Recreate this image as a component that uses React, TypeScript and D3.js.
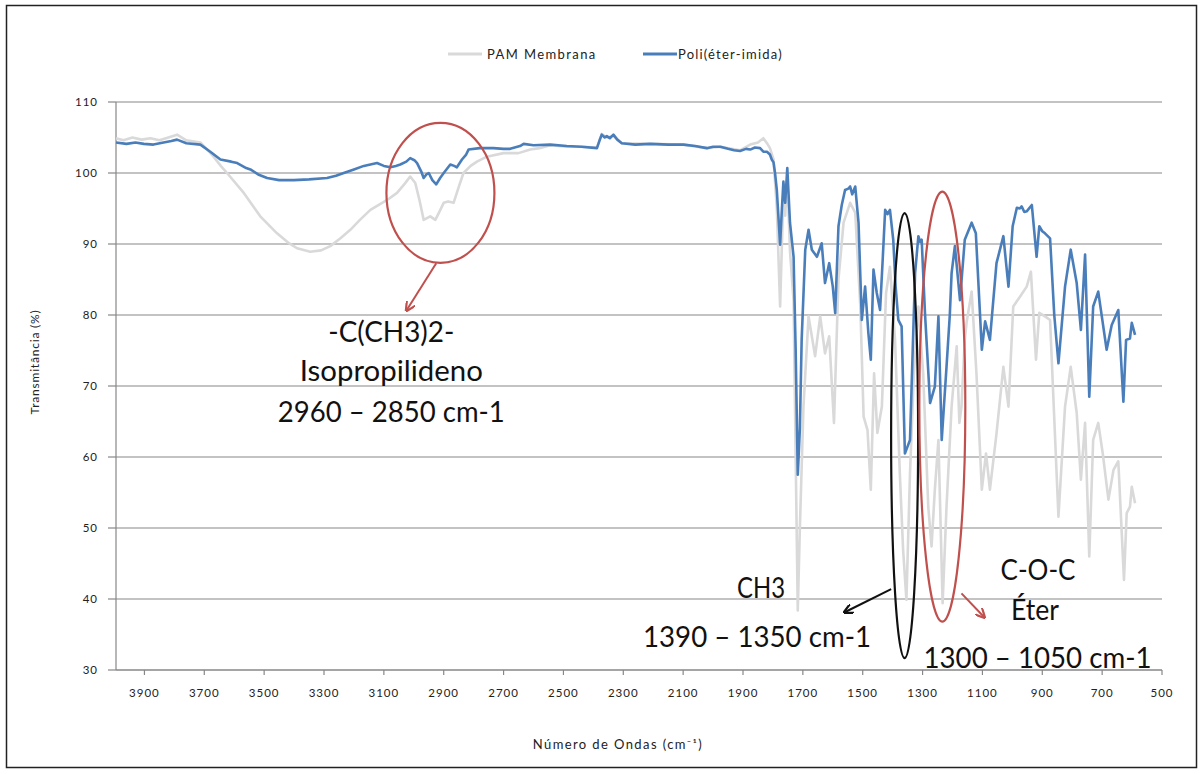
import React from "react";
import * as d3 from "d3";

// ---- Data ----
const pamWavenumbers = [
  3995, 3970, 3940, 3910, 3880, 3850, 3820, 3791, 3760, 3713, 3690, 3669, 3645, 3624, 3568, 3513, 3457, 3420, 3390, 3346,
  3310, 3279, 3245, 3212, 3180, 3145, 3110, 3089, 3056, 3030, 3012, 2995, 2980, 2967, 2945, 2928, 2915, 2900, 2885, 2867,
  2850, 2834, 2810, 2789, 2756, 2700, 2650, 2611, 2580, 2544, 2489, 2440, 2388, 2372, 2355, 2333, 2305, 2210, 2099, 2021,
  1976, 1910, 1876, 1850, 1832, 1820, 1810, 1798, 1787, 1776, 1770, 1765, 1759, 1752, 1743, 1731, 1724, 1717, 1710, 1698,
  1681, 1659, 1642, 1626, 1612, 1596, 1581, 1564, 1542, 1525, 1508, 1497, 1484, 1473, 1462, 1451, 1436, 1422, 1409, 1392,
  1376, 1365, 1354, 1342, 1329, 1314, 1298, 1281, 1270, 1259, 1247, 1233, 1220, 1203, 1186, 1177, 1170, 1159, 1153, 1136,
  1120, 1102, 1088, 1075, 1053, 1030, 1013, 997, 974, 952, 938, 921, 910, 891, 874, 846, 824, 805, 785, 771,
  757, 743, 730, 713, 698, 679, 662, 646, 627, 618, 607, 601, 590,
];
const pamValues = [
  104.9, 104.6, 105.0, 104.7, 104.9, 104.6, 105.0, 105.4, 104.6, 104.3, 103.3, 102.3, 101.0, 100.0, 97.2, 93.9, 91.5, 90.2, 89.4, 88.9,
  89.1, 89.7, 90.8, 92.0, 93.4, 94.8, 95.7, 96.2, 97.2, 98.5, 99.5, 98.6, 96.0, 93.4, 93.9, 93.4, 94.5, 95.8, 96.0, 95.8,
  98.0, 100.0, 101.0, 101.6, 102.3, 102.8, 102.8, 103.3, 103.5, 103.9, 103.7, 103.7, 103.6, 105.5, 105.0, 105.2, 104.2, 104.1, 104.0, 103.5,
  103.7, 103.2, 104.0, 104.3, 104.9, 104.2, 103.5, 101.9, 95.0, 81.2, 90.0, 97.0, 94.0, 99.5, 89.0, 82.0, 60.0, 38.4, 50.0, 67.1,
  79.8, 74.2, 79.8, 74.6, 77.0, 64.8, 85.0, 93.0, 95.8, 94.4, 81.2, 65.7, 63.8, 55.4, 71.8, 63.4, 67.1, 83.1, 86.8, 76.5,
  57.7, 46.9, 39.9, 57.7, 71.8, 81.2, 71.8, 53.0, 47.4, 55.4, 62.4, 39.4, 53.0, 67.1, 75.6, 64.8, 67.1, 76.5, 78.9, 83.3,
  71.8, 55.4, 60.5, 55.4, 63.3, 72.7, 67.1, 81.2, 82.6, 84.0, 86.1, 73.7, 80.3, 79.8, 79.3, 51.6, 67.1, 72.7, 66.2, 56.8,
  64.8, 46.0, 62.4, 64.8, 60.5, 54.0, 58.2, 59.4, 42.7, 52.1, 53.0, 55.8, 53.5,
];

const peiWavenumbers = [
  3995, 3960, 3930, 3902, 3870, 3836, 3810, 3791, 3760, 3713, 3680, 3646, 3610, 3590, 3560, 3546, 3520, 3490, 3450, 3401,
  3350, 3290, 3260, 3234, 3200, 3167, 3123, 3100, 3078, 3060, 3045, 3025, 3012, 2998, 2989, 2975, 2967, 2958, 2950, 2938,
  2925, 2912, 2900, 2878, 2865, 2856, 2839, 2825, 2817, 2780, 2734, 2700, 2678, 2645, 2633, 2600, 2544, 2489, 2440, 2388,
  2380, 2372, 2362, 2355, 2345, 2333, 2320, 2305, 2260, 2210, 2150, 2099, 2060, 2021, 2000, 1976, 1950, 1930, 1910, 1890,
  1876, 1860, 1843, 1832, 1820, 1810, 1804, 1798, 1793, 1787, 1776, 1770, 1765, 1759, 1752, 1743, 1731, 1724, 1717, 1710,
  1704, 1692, 1681, 1670, 1653, 1637, 1626, 1612, 1600, 1592, 1581, 1570, 1559, 1548, 1542, 1535, 1525, 1514, 1503, 1492,
  1481, 1473, 1464, 1453, 1442, 1433, 1425, 1417, 1409, 1398, 1390, 1381, 1370, 1359, 1350, 1342, 1333, 1325, 1314, 1308,
  1303, 1292, 1275, 1259, 1247, 1236, 1220, 1209, 1203, 1192, 1175, 1159, 1136, 1122, 1102, 1091, 1075, 1053, 1030, 1013,
  999, 985, 975, 969, 960, 952, 935, 919, 910, 900, 891, 874, 860, 846, 824, 805, 785, 771, 757, 743,
  730, 713, 685, 668, 646, 629, 620, 607, 601, 590,
];
const peiValues = [
  104.3, 104.1, 104.3, 104.1, 104.0, 104.3, 104.5, 104.7, 104.2, 104.0, 103.0, 101.9, 101.6, 101.4, 100.7, 100.5, 99.8, 99.3, 99.0, 99.0,
  99.1, 99.3, 99.6, 100.0, 100.5, 101.0, 101.4, 101.0, 100.8, 101.0, 101.2, 101.6, 102.1, 101.8, 101.4, 100.2, 99.3, 99.8, 100.0, 99.0,
  98.4, 99.3, 100.0, 101.2, 101.0, 100.8, 101.9, 102.6, 103.3, 103.5, 103.5, 103.4, 103.4, 103.8, 104.1, 103.9, 104.0, 103.8, 103.7, 103.5,
  104.5, 105.4, 105.0, 105.2, 104.9, 105.4, 104.7, 104.2, 104.0, 104.1, 104.0, 104.0, 103.8, 103.5, 103.7, 103.7, 103.4, 103.2, 103.1, 103.4,
  103.3, 103.6, 103.5, 103.0, 103.0, 102.6, 101.9, 101.5, 100.0, 97.6, 89.9, 95.0, 98.8, 95.8, 100.7, 93.0, 88.2, 75.0, 57.5, 64.0,
  76.5, 89.2, 92.0, 89.2, 88.2, 90.1, 84.5, 87.3, 84.0, 80.3, 92.5, 95.5, 97.6, 97.8, 98.1, 97.0, 98.1, 93.0, 79.3, 84.0,
  77.4, 73.7, 86.4, 83.1, 80.7, 88.0, 94.8, 94.2, 94.8, 90.6, 84.0, 79.3, 78.4, 60.5, 61.5, 62.4, 75.0, 85.9, 91.1, 90.3,
  90.6, 80.3, 67.6, 69.9, 79.8, 62.4, 72.7, 80.0, 85.9, 89.7, 82.1, 90.6, 93.0, 91.5, 75.1, 79.1, 76.5, 87.3, 91.1, 84.0,
  92.5, 95.1, 95.0, 95.3, 94.5, 94.6, 95.5, 88.2, 92.5, 91.8, 91.5, 90.8, 80.0, 73.2, 84.0, 89.2, 84.5, 77.9, 88.5, 68.5,
  81.2, 83.3, 75.1, 78.6, 80.7, 67.8, 76.5, 76.7, 78.9, 77.2,
];

const xTickValues = [3900, 3700, 3500, 3300, 3100, 2900, 2700, 2500, 2300, 2100, 1900, 1700, 1500, 1300, 1100, 900, 700, 500];
const yTickValues = [30, 40, 50, 60, 70, 80, 90, 100, 110];

const seriesNames = ["PAM Membrana", "Poli(éter-imida)"];
const seriesColors = ["#d9d9d9", "#4a7ebb"];

const W = 1204;
const H = 774;

const FONT = "Lato, 'Open Sans', 'DejaVu Sans', sans-serif";

export default function App() {
  const x = d3.scaleLinear().domain([3995, 500]).range([116, 1162]);
  const y = d3.scaleLinear().domain([30, 110]).range([670, 102]);

  const line = d3
    .line<[number, number]>()
    .x((d) => x(d[0]))
    .y((d) => y(d[1]));

  const pamPts: [number, number][] = pamWavenumbers.map((w, i) => [w, pamValues[i]]);
  const peiPts: [number, number][] = peiWavenumbers.map((w, i) => [w, peiValues[i]]);

  const red = "#c0504d";
  const annFont = 28;

  return (
    <svg
      width={W}
      height={H}
      style={{ position: "absolute", left: 0, top: 0, background: "#fff" }}
      fontFamily={FONT}
    >
      <defs>
        <marker id="arrBlack" viewBox="0 0 10 10" refX="9" refY="5" markerWidth="5" markerHeight="5" orient="auto">
          <path d="M0,0 L10,5 L0,10" fill="none" stroke="#111" strokeWidth="2.2" />
        </marker>
        <marker id="arrRed" viewBox="0 0 10 10" refX="9" refY="5" markerWidth="5" markerHeight="5" orient="auto">
          <path d="M0,0 L10,5 L0,10" fill="none" stroke={red} strokeWidth="2.2" />
        </marker>
      </defs>
      <rect x={0} y={0} width={W} height={H} fill="#fff" />
      <rect x={6.5} y={5.5} width={1190} height={762} fill="none" stroke="#222" strokeWidth={1.5} />

      {/* gridlines */}
      {yTickValues.map((v) => (
        <line key={"g" + v} x1={116} x2={1162} y1={y(v)} y2={y(v)} stroke="#878787" strokeWidth={1.2} />
      ))}
      {/* y axis */}
      <line x1={116} x2={116} y1={y(110)} y2={y(30)} stroke="#878787" strokeWidth={1.2} />
      {yTickValues.map((v) => (
        <g key={"yt" + v}>
          <line x1={108} x2={116} y1={y(v)} y2={y(v)} stroke="#878787" strokeWidth={1.2} />
          <text x={98} y={y(v) + 4} textAnchor="end" fontSize={11.5} letterSpacing={1} fill="#222">
            {v}
          </text>
        </g>
      ))}
      {/* x axis */}
      <line x1={116} x2={1162} y1={y(30)} y2={y(30)} stroke="#878787" strokeWidth={1.2} />
      {xTickValues.map((v) => (
        <g key={"xt" + v}>
          <line x1={x(v)} x2={x(v)} y1={y(30)} y2={y(30) + 5} stroke="#878787" strokeWidth={1.2} />
          <text x={x(v)} y={697} textAnchor="middle" fontSize={11.5} letterSpacing={1} fill="#222">
            {v}
          </text>
        </g>
      ))}

      {/* series */}
      <path d={line(pamPts) || ""} fill="none" stroke={seriesColors[0]} strokeWidth={2.6} strokeLinejoin="round" />
      <path d={line(peiPts) || ""} fill="none" stroke={seriesColors[1]} strokeWidth={2.6} strokeLinejoin="round" />

      {/* axis titles */}
      <text x={618} y={749} textAnchor="middle" fontSize={13} letterSpacing={1.4} fill="#222">
        Número de Ondas  (cm⁻¹)
      </text>
      <text
        transform={`translate(39, 362) rotate(-90)`}
        textAnchor="middle"
        fontSize={12}
        letterSpacing={0.8}
        fill="#222"
      >
        Transmitância  (%)
      </text>

      {/* legend */}
      <line x1={448} x2={482} y1={54} y2={54} stroke={seriesColors[0]} strokeWidth={3} />
      <text x={487} y={58.5} fontSize={13} letterSpacing={1.4} fill="#222">
        {seriesNames[0]}
      </text>
      <line x1={643} x2={677} y1={54} y2={54} stroke={seriesColors[1]} strokeWidth={3} />
      <text x={678} y={58.5} fontSize={13} letterSpacing={1.2} fill="#222">
        {seriesNames[1]}
      </text>

      {/* annotation 1: isopropilideno */}
      <ellipse cx={x(2911)} cy={y(97.2)} rx={54} ry={70} fill="none" stroke={red} strokeWidth={2.2} />
      <line
        x1={x(2925)}
        y1={y(87.3)}
        x2={x(3025)}
        y2={y(80.6)}
        stroke={red}
        strokeWidth={2}
        markerEnd="url(#arrRed)"
      />
      <text x={x(3075)} y={341.5} textAnchor="middle" fontSize={annFont} textLength={126} lengthAdjust="spacingAndGlyphs" fill="#111">
        -C(CH3)2-
      </text>
      <text x={x(3075)} y={380.5} textAnchor="middle" fontSize={annFont} textLength={183} lengthAdjust="spacingAndGlyphs" fill="#111">
        Isopropilideno
      </text>
      <text x={x(3075)} y={422} textAnchor="middle" fontSize={annFont} textLength={227} lengthAdjust="spacingAndGlyphs" fill="#111">
        2960 – 2850 cm-1
      </text>

      {/* annotation 2: CH3 */}
      <ellipse cx={x(1360)} cy={y(63)} rx={13.5} ry={222.5} fill="none" stroke="#111" strokeWidth={2.2} />
      <line
        x1={x(1405)}
        y1={y(41.4)}
        x2={x(1562)}
        y2={y(38.1)}
        stroke="#111"
        strokeWidth={2}
        markerEnd="url(#arrBlack)"
      />
      <text x={761} y={598} textAnchor="middle" fontSize={annFont} textLength={48} lengthAdjust="spacingAndGlyphs" fill="#111">
        CH3
      </text>
      <text x={757} y={647} textAnchor="middle" fontSize={annFont} textLength={228} lengthAdjust="spacingAndGlyphs" fill="#111">
        1390 – 1350 cm-1
      </text>

      {/* annotation 3: éter */}
      <ellipse cx={x(1234)} cy={y(67.1)} rx={23} ry={215} fill="none" stroke={red} strokeWidth={2.2} />
      <line
        x1={x(1170)}
        y1={y(40.8)}
        x2={x(1093)}
        y2={y(37.4)}
        stroke={red}
        strokeWidth={2}
        markerEnd="url(#arrRed)"
      />
      <text x={1038} y={580} textAnchor="middle" fontSize={annFont} textLength={75} lengthAdjust="spacingAndGlyphs" fill="#111">
        C-O-C
      </text>
      <text x={1035} y={620} textAnchor="middle" fontSize={annFont} textLength={48} lengthAdjust="spacingAndGlyphs" fill="#111">
        Éter
      </text>
      <text x={1037.5} y={668} textAnchor="middle" fontSize={annFont} textLength={228} lengthAdjust="spacingAndGlyphs" fill="#111">
        1300 – 1050 cm-1
      </text>
    </svg>
  );
}
